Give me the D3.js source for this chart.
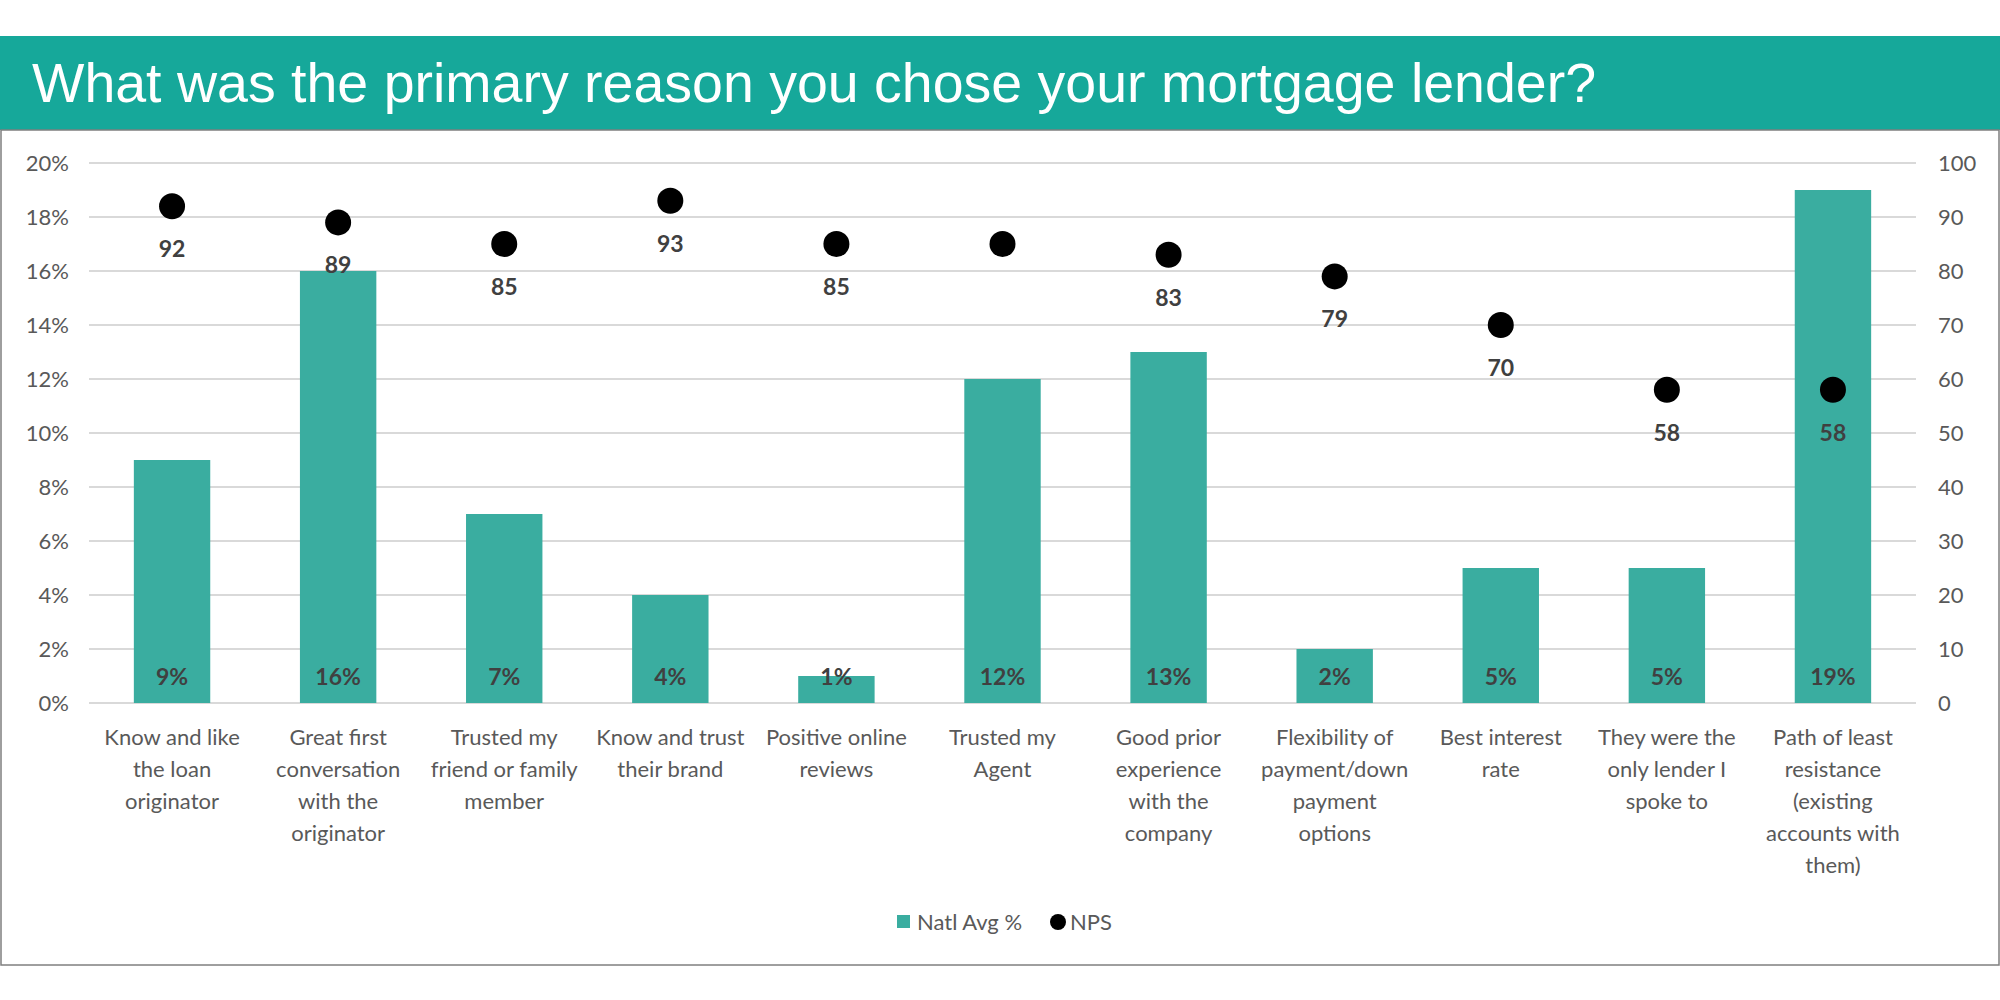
<!DOCTYPE html>
<html>
<head>
<meta charset="utf-8">
<script src="https://d3js.org/d3.v7.min.js"></script>
<style>
  body { margin: 0; background: #fff; }
  svg { display: block; font-family: Lato, "Open Sans", sans-serif; }
  .tick text { fill: #595959; font-size: 22px; font-family: Lato, sans-serif; }
  .xlab { fill: #595959; font-size: 22px; }
  .val { fill: #404040; font-size: 23px; font-weight: bold; }
</style>
</head>
<body>
<svg width="2000" height="1000"></svg>
<script>
// data
var categories = [
  ["Know and like", "the loan", "originator"],
  ["Great first", "conversation", "with the", "originator"],
  ["Trusted my", "friend or family", "member"],
  ["Know and trust", "their brand"],
  ["Positive online", "reviews"],
  ["Trusted my", "Agent"],
  ["Good prior", "experience", "with the", "company"],
  ["Flexibility of", "payment/down", "payment", "options"],
  ["Best interest", "rate"],
  ["They were the", "only lender I", "spoke to"],
  ["Path of least", "resistance", "(existing", "accounts with", "them)"]
];
var natlAvg = [9, 16, 7, 4, 1, 12, 13, 2, 5, 5, 19];
var nps = [92, 89, 85, 93, 85, 85, 83, 79, 70, 58, 58];
var npsShown = [true, true, true, true, true, false, true, true, true, true, true];
var pctTicks = [0, 2, 4, 6, 8, 10, 12, 14, 16, 18, 20];
var npsTicks = [0, 10, 20, 30, 40, 50, 60, 70, 80, 90, 100];

var svg = d3.select("svg");
var teal = "#16a89a", barColor = "#3aada0";

// header band + title
svg.append("rect").attr("x", 0).attr("y", 36).attr("width", 2000).attr("height", 94).attr("fill", teal);
svg.append("text").attr("x", 32).attr("y", 102)
  .attr("fill", "#fff").style("font-family", "'Liberation Sans', Arial, sans-serif").style("font-size", "55.5px")
  .text("What was the primary reason you chose your mortgage lender?");

// frame
svg.append("rect").attr("x", 1).attr("y", 130).attr("width", 1998).attr("height", 835)
  .attr("fill", "none").attr("stroke", "#7f7f7f").attr("stroke-width", 1.5);

var plotL = 89, plotR = 1916, plotT = 163, plotB = 703;
var x = d3.scaleBand().domain(d3.range(categories.length)).range([plotL, plotR]).paddingInner(0.54).paddingOuter(0.27);
var yL = d3.scaleLinear().domain([0, 20]).range([plotB, plotT]);
var yR = d3.scaleLinear().domain([0, 100]).range([plotB, plotT]);

// gridlines
svg.append("g").selectAll("line").data(pctTicks).join("line")
  .attr("x1", plotL).attr("x2", plotR)
  .attr("y1", d => yL(d)).attr("y2", d => yL(d))
  .attr("stroke", "#d9d9d9").attr("stroke-width", 2);

// axes
var axL = svg.append("g").attr("transform", "translate(" + (plotL - 14) + ",0)")
  .call(d3.axisLeft(yL).tickValues(pctTicks).tickFormat(d => d + "%").tickSize(0).tickPadding(6));
var axR = svg.append("g").attr("transform", "translate(" + (plotR + 14) + ",0)")
  .call(d3.axisRight(yR).tickValues(npsTicks).tickSize(0).tickPadding(8));
[axL, axR].forEach(a => a.select(".domain").remove());

// bars
svg.append("g").selectAll("rect").data(natlAvg).join("rect")
  .attr("x", (d, i) => x(i)).attr("width", x.bandwidth())
  .attr("y", d => yL(d)).attr("height", d => yL(0) - yL(d))
  .attr("fill", barColor);

// bar labels
svg.append("g").selectAll("text").data(natlAvg).join("text")
  .attr("class", "val").attr("text-anchor", "middle")
  .attr("x", (d, i) => x(i) + x.bandwidth() / 2).attr("y", yL(0) - 18)
  .text(d => d + "%");

// NPS dots
svg.append("g").selectAll("circle").data(nps).join("circle")
  .attr("cx", (d, i) => x(i) + x.bandwidth() / 2).attr("cy", d => yR(d))
  .attr("r", 13).attr("fill", "#000");

svg.append("g").selectAll("text").data(nps).join("text")
  .attr("class", "val").attr("text-anchor", "middle")
  .attr("x", (d, i) => x(i) + x.bandwidth() / 2).attr("y", d => yR(d) + 51)
  .text((d, i) => npsShown[i] ? d : "");

// category labels
var cl = svg.append("g").selectAll("text").data(categories).join("text")
  .attr("class", "xlab").attr("text-anchor", "middle")
  .attr("x", (d, i) => x(i) + x.bandwidth() / 2).attr("y", 745);
cl.selectAll("tspan").data(d => d).join("tspan")
  .attr("x", function() { return this.parentNode.getAttribute("x"); })
  .attr("dy", (d, j) => j === 0 ? 0 : 32)
  .text(d => d);

// legend
var lg = svg.append("g").attr("transform", "translate(897,922)");
lg.append("rect").attr("x", 0).attr("y", -7).attr("width", 13).attr("height", 13).attr("fill", barColor);
lg.append("text").attr("x", 20).attr("y", 8).attr("fill", "#595959").style("font-size", "22px").text("Natl Avg %");
lg.append("circle").attr("cx", 161).attr("cy", 0).attr("r", 8).attr("fill", "#000");
lg.append("text").attr("x", 173).attr("y", 8).attr("fill", "#595959").style("font-size", "22px").text("NPS");
</script>
</body>
</html>
